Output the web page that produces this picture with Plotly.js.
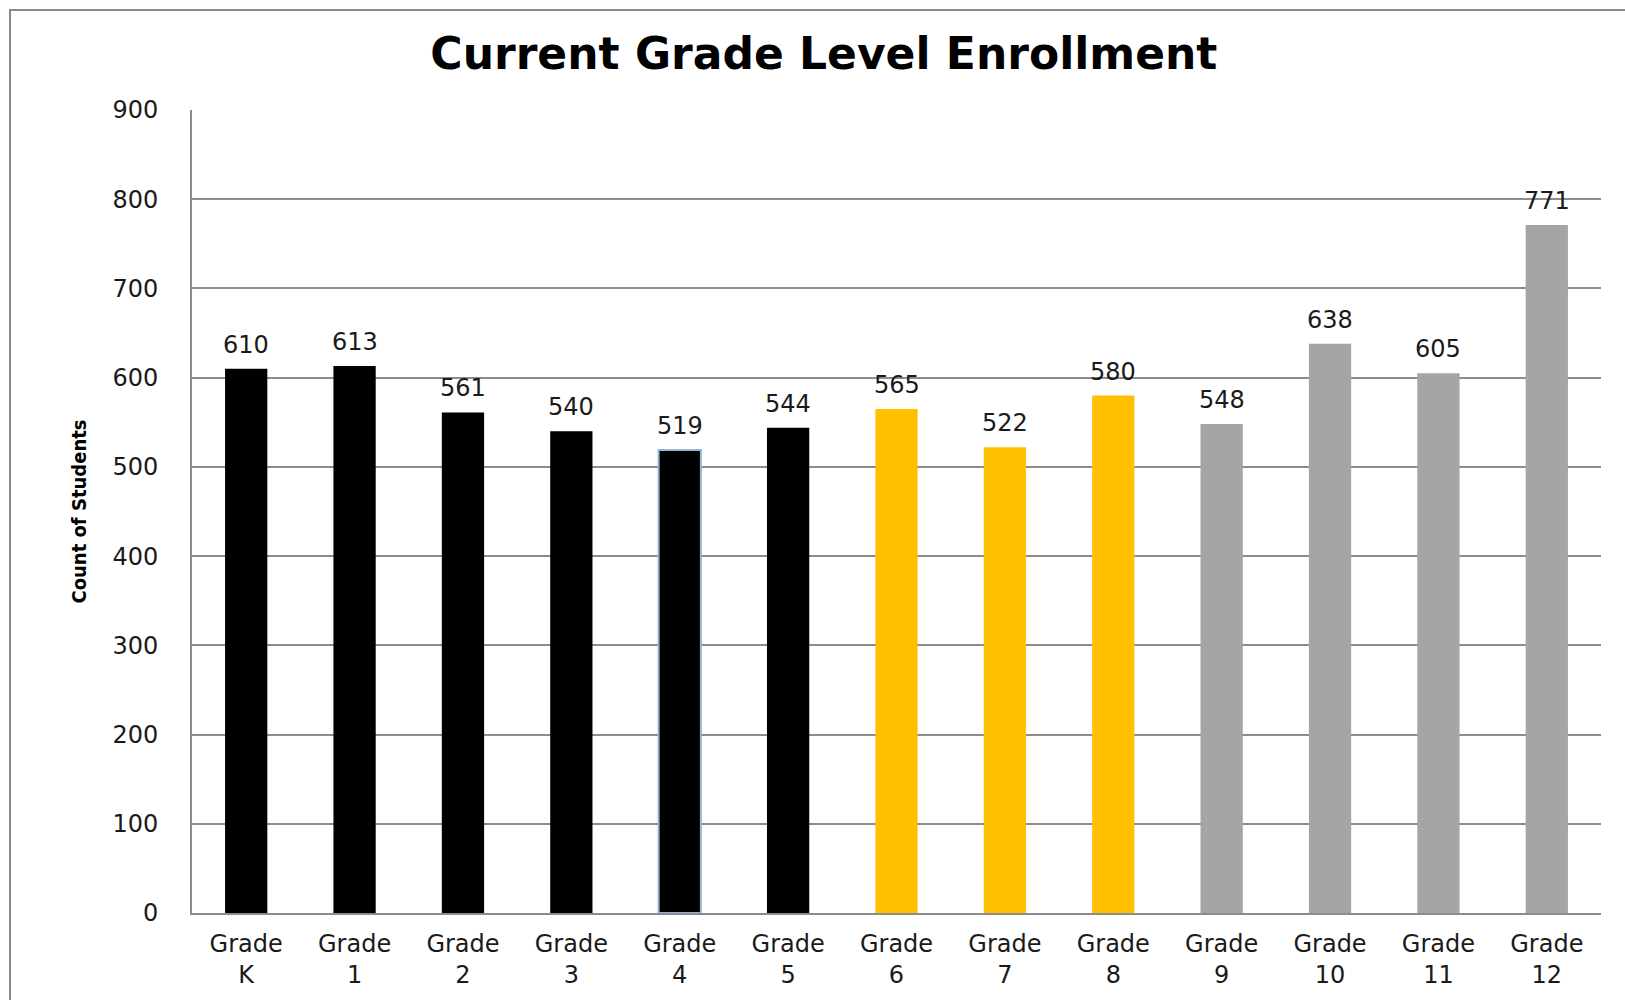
<!DOCTYPE html>
<html>
<head>
<meta charset="utf-8">
<script src="https://cdn.plot.ly/plotly-3.0.1.min.js"></script>
<style>
  html, body { margin: 0; padding: 0; background: #ffffff; overflow: hidden; }
  #frame { position: absolute; left: 9px; top: 9px; width: 1640px; height: 1010px;
           border-left: 2px solid #8a8a8a; border-top: 2px solid #8a8a8a; box-sizing: border-box; }
  #chart { position: absolute; left: 0; top: 0; width: 1625px; height: 1000px; }
</style>
</head>
<body>
<div id="frame"></div>
<div id="chart"></div>
<script>
// ---- data ----
const categories = ["Grade K", "Grade 1", "Grade 2", "Grade 3", "Grade 4", "Grade 5", "Grade 6",
                    "Grade 7", "Grade 8", "Grade 9", "Grade 10", "Grade 11", "Grade 12"];
const tickLabels = ["Grade<br>K", "Grade<br>1", "Grade<br>2", "Grade<br>3", "Grade<br>4", "Grade<br>5",
                    "Grade<br>6", "Grade<br>7", "Grade<br>8", "Grade<br>9", "Grade<br>10", "Grade<br>11", "Grade<br>12"];
const enrollment = [610, 613, 561, 540, 519, 544, 565, 522, 580, 548, 638, 605, 771];
const schoolLevel = ["elem", "elem", "elem", "elem", "elem", "elem", "middle", "middle", "middle",
                     "high", "high", "high", "high"];
const chartTitle = "Current Grade Level Enrollment";
const yTitle = "Count of Students";

// ---- styles ----
const levelColors = { elem: "#000000", middle: "#FFC000", high: "#A5A5A5" };
const barColors = schoolLevel.map(l => levelColors[l]);
const outlineColors = categories.map((c, i) => c === "Grade 4" ? "#95B3D7" : barColors[i]);
const outlineWidths = categories.map(c => c === "Grade 4" ? 2 : 0);

const tickFont = { family: "DejaVu Sans, Verdana, sans-serif", size: 24, color: "#1a1a1a" };
const gridColor = "#8c8c8c";

const trace = {
  type: "bar",
  x: categories,
  y: enrollment,
  marker: { color: barColors, line: { color: outlineColors, width: outlineWidths } },
  hoverinfo: "x+y",
  showlegend: false
};

const annotations = categories.map((c, i) => ({
  x: c, y: enrollment[i], xref: "x", yref: "y",
  text: String(enrollment[i]), showarrow: false,
  yanchor: "bottom", yshift: 8,
  font: tickFont
}));

const layout = {
  width: 1625, height: 1000,
  paper_bgcolor: "rgba(0,0,0,0)", plot_bgcolor: "rgba(0,0,0,0)",
  margin: { l: 192, r: 24, t: 110, b: 87, pad: 0 },
  title: {
    text: "<b>" + chartTitle + "</b>",
    font: { family: "DejaVu Sans, Verdana, sans-serif", size: 44, color: "#000000" },
    x: 0.507, xref: "container", xanchor: "center",
    y: 0.946, yref: "container", yanchor: "middle"
  },
  bargap: 0.61,
  xaxis: {
    type: "category",
    tickmode: "array", tickvals: categories, ticktext: tickLabels,
    tickfont: tickFont,
    showline: true, linecolor: gridColor, linewidth: 2,
    showgrid: false, ticks: "", zeroline: false,
    ticklabelstandoff: 8,
    automargin: false
  },
  yaxis: {
    range: [0, 900], dtick: 100, tick0: 0,
    tickfont: tickFont,
    showgrid: true, gridcolor: gridColor, gridwidth: 2,
    showline: true, linecolor: gridColor, linewidth: 2,
    zeroline: false, ticks: "", ticklabelstandoff: 27,
    automargin: false,
    title: {
      text: "<b>" + yTitle + "</b>",
      font: { family: "Liberation Sans Narrow, DejaVu Sans Condensed, sans-serif", size: 20, color: "#000000" },
      standoff: 20
    }
  },
  annotations: annotations
};

Plotly.newPlot("chart", [trace], layout, { displayModeBar: false, staticPlot: true });
</script>
</body>
</html>
